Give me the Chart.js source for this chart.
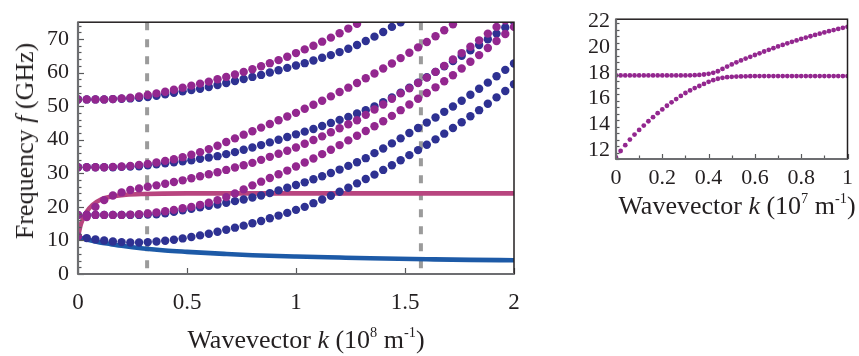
<!DOCTYPE html>
<html>
<head>
<meta charset="utf-8">
<script src="https://cdn.jsdelivr.net/npm/chart.js@4.4.0/dist/chart.umd.min.js"></script>
<style>
  body { margin: 0; width: 859px; height: 356px; background: #fff; position: relative; overflow: hidden;
         font-family: 'Liberation Serif', 'Times New Roman', serif; color: #231f20; }
  #leftBox { position: absolute; left: 0; top: 0; width: 540px; height: 356px; }
  #rightBox { position: absolute; left: 560px; top: 0; width: 299px; height: 230px; }
  .ttl { position: absolute; white-space: nowrap; font-size: 26px; line-height: 1; }
  sup { font-size: 0.55em; line-height: 0; vertical-align: 0.75em; }
</style>
</head>
<body>
<div id="leftBox"><canvas id="left" width="540" height="356"></canvas></div>
<div id="rightBox"><canvas id="right" width="299" height="230"></canvas></div>
<div class="ttl" style="left:25px;top:141px;transform:translate(-50%,-50%) rotate(-90deg)">Frequency <i>f</i> (GHz)</div>
<div class="ttl" style="left:306px;top:340px;transform:translate(-50%,-50%)">Wavevector <i>k</i> (10<sup>8</sup> m<sup>-1</sup>)</div>
<div class="ttl" style="left:737px;top:206px;transform:translate(-50%,-50%)">Wavevector <i>k</i> (10<sup>7</sup> m<sup>-1</sup>)</div>
<script>
// ---- left panel: dispersion, k in 1e8 1/m, f in GHz ----
const kLeft = [0, 0.04, 0.08, 0.12, 0.16, 0.2, 0.24, 0.28, 0.32, 0.36, 0.4, 0.44, 0.48, 0.52, 0.56, 0.6, 0.64, 0.68, 0.72, 0.76, 0.8, 0.84, 0.88, 0.92, 0.96, 1,
               1.04, 1.08, 1.12, 1.16, 1.2, 1.24, 1.28, 1.32, 1.36, 1.4, 1.44, 1.48, 1.52, 1.56, 1.6, 1.64, 1.68, 1.72, 1.76, 1.8, 1.84, 1.88, 1.92, 1.96, 2];

// blue dotted branches
const blue1 = [11.0, 10.7, 10.3, 10.0, 9.7, 9.5, 9.4, 9.4, 9.5, 9.7, 9.9, 10.2, 10.6, 11.0, 11.5, 12.0, 12.6, 13.2, 13.8, 14.4, 15.1, 15.8, 16.6, 17.4, 18.2, 19.1,
               20.0, 21.1, 22.2, 23.3, 24.5, 25.7, 27.0, 28.3, 29.6, 31.0, 32.4, 33.9, 35.4, 36.9, 38.5, 40.1, 41.8, 43.5, 45.2, 47.0, 48.8, 50.7, 52.6, 54.5, 56.5];
const blue2 = [17.6, 17.6, 17.6, 17.6, 17.6, 17.6, 17.6, 17.6, 17.7, 17.8, 18.1, 18.5, 19.0, 19.4, 19.9, 20.3, 20.7, 21.2, 21.7, 22.2, 22.8, 23.4, 24.1, 24.9, 25.7, 26.5,
               27.3, 28.2, 29.1, 30.1, 31.1, 32.2, 33.3, 34.5, 36.0, 37.4, 38.9, 40.4, 42.0, 43.5, 45.1, 46.6, 48.3, 49.9, 51.6, 53.4, 55.2, 57.0, 58.9, 60.8, 62.7];
const blue3 = [31.8, 31.8, 31.8, 31.8, 31.8, 31.9, 32.0, 32.1, 32.4, 32.7, 33.0, 33.3, 33.6, 33.9, 34.3, 34.7, 35.1, 35.7, 36.3, 37.0, 37.7, 38.4, 39.2, 40.0, 40.8, 41.6,
               42.4, 43.2, 44.1, 45.0, 45.9, 46.8, 47.8, 48.8, 49.9, 51.2, 52.6, 54.0, 55.5, 57.0, 58.6, 60.2, 61.9, 63.4, 65.0, 66.6, 68.2, 69.9, 71.6, 73.4, 75.2];
const blue4 = [52.0, 52.0, 52.0, 52.0, 52.1, 52.2, 52.3, 52.5, 52.7, 53.1, 53.5, 54.0, 54.4, 54.8, 55.2, 55.7, 56.3, 56.9, 57.5, 58.1, 58.7, 59.3, 60.0, 60.7, 61.4, 62.1,
               62.8, 63.6, 64.4, 65.2, 66.1, 67.1, 68.2, 69.4, 70.7, 72.1, 73.6, 75.0, 76.5, null, null, null, null, null, null, null, null, null, null, null, null];

// magenta dotted branches
const mag1 = [11.2, 17.0, 20.0, 22.0, 23.4, 24.3, 25.0, 25.5, 26.0, 26.4, 26.9, 27.4, 27.9, 28.5, 29.1, 29.7, 30.3, 31.0, 31.7, 32.4, 33.1, 34.0, 34.9, 35.8, 36.7, 37.7,
              38.8, 39.9, 41.0, 42.2, 43.4, 44.6, 45.8, 47.4, 49.0, 50.5, 52.2, 53.8, 55.3, 56.9, 58.5, 60.2, 62.0, 63.9, 65.8, 67.7, 69.6, 71.6, 73.6, 75.6, null];
const mag2 = [17.6, 17.6, 17.6, 17.6, 17.6, 17.6, 17.7, 17.8, 18.0, 18.3, 18.7, 19.1, 19.6, 20.0, 20.6, 21.2, 22.0, 22.9, 24.0, 25.2, 26.4, 27.5, 28.6, 29.7, 30.8, 32.0,
              33.2, 34.4, 35.7, 37.0, 38.4, 39.8, 41.2, 42.6, 44.0, 45.5, 47.1, 48.8, 50.5, 52.2, 53.9, 55.6, 57.4, 59.2, 61.2, 63.2, 65.2, 67.3, 69.4, 71.5, 73.6];
const mag3 = [31.8, 31.8, 31.8, 31.8, 31.9, 32.0, 32.2, 32.5, 32.8, 33.2, 33.7, 34.2, 34.8, 35.5, 36.3, 37.2, 38.2, 39.3, 40.4, 41.5, 42.5, 43.6, 44.7, 45.8, 46.9, 48.0,
              49.2, 50.4, 51.6, 52.9, 54.2, 55.5, 56.9, 58.3, 59.7, 61.2, 62.7, 64.3, 65.9, 67.5, 69.1, 70.8, 72.6, 74.4, 76.2, null, null, null, null, null, null];
const mag4 = [52.0, 52.0, 52.0, 52.0, 52.1, 52.3, 52.5, 52.9, 53.3, 53.8, 54.3, 54.9, 55.5, 56.1, 56.7, 57.3, 58.0, 58.7, 59.4, 60.2, 61.0, 61.9, 62.8, 63.7, 64.7, 65.8,
              66.9, 68.0, 69.2, 70.4, 71.7, 73.1, 74.5, 76.0, null, null, null, null, null, null, null, null, null, null, null, null, null, null, null, null, null];

// solid curves
const pinkK = [0, 0.014, 0.037, 0.067, 0.105, 0.144, 0.22, 0.3, 0.5, 1, 1.5, 2];
const pinkF = [11.2, 15.0, 18.3, 20.6, 22.2, 22.9, 23.6, 23.85, 24.0, 24.0, 24.0, 24.0];
const blueLineK = [0, 0.05, 0.1, 0.15, 0.2, 0.3, 0.4, 0.5, 0.67, 0.8, 1, 1.2, 1.34, 1.6, 1.8, 2];
const blueLineF = [11.0, 10.1, 9.4, 8.9, 8.4, 7.6, 7.0, 6.6, 6.0, 5.6, 5.2, 4.9, 4.7, 4.4, 4.2, 4.1];

// dashed markers
const dashK = [0.317, 1.573];

const xTicksLeft = [0, 0.5, 1, 1.5, 2];
const yTicksLeft = [0, 10, 20, 30, 40, 50, 60, 70];

// ---- right panel: zoom near the crossing, k in 1e7 1/m ----
const kRight = [0, 0.02, 0.04, 0.06, 0.08, 0.1, 0.12, 0.14, 0.16, 0.18, 0.2, 0.22, 0.24, 0.26, 0.28, 0.3, 0.32, 0.34, 0.36, 0.38, 0.4, 0.42, 0.44, 0.46, 0.48, 0.5,
                0.52, 0.54, 0.56, 0.58, 0.6, 0.62, 0.64, 0.66, 0.68, 0.7, 0.72, 0.74, 0.76, 0.78, 0.8, 0.82, 0.84, 0.86, 0.88, 0.9, 0.92, 0.94, 0.96, 0.98, 1];
const upperRight = [17.8, 17.8, 17.8, 17.8, 17.8, 17.8, 17.8, 17.8, 17.8, 17.8, 17.8, 17.8, 17.8, 17.8, 17.8, 17.8, 17.81, 17.82, 17.84, 17.87, 17.92, 18.0, 18.12, 18.3, 18.48, 18.65,
                    18.81, 18.96, 19.1, 19.24, 19.38, 19.51, 19.65, 19.78, 19.91, 20.04, 20.16, 20.28, 20.4, 20.51, 20.62, 20.73, 20.83, 20.93, 21.03, 21.13, 21.22, 21.31, 21.4, 21.48, 21.56];
const lowerRight = [11.45, 11.95, 12.4, 12.83, 13.22, 13.58, 13.92, 14.25, 14.57, 14.88, 15.17, 15.45, 15.72, 15.97, 16.21, 16.44, 16.64, 16.82, 16.98, 17.14, 17.3, 17.43, 17.54, 17.61, 17.66, 17.69,
                    17.71, 17.72, 17.73, 17.74, 17.75, 17.75, 17.75, 17.75, 17.75, 17.75, 17.75, 17.75, 17.75, 17.75, 17.75, 17.75, 17.75, 17.75, 17.75, 17.75, 17.75, 17.75, 17.75, 17.75, 17.75];

const xTicksRight = [0, 0.2, 0.4, 0.6, 0.8, 1];
const yTicksRight = [12, 14, 16, 18, 20, 22];

const BLUE = '#2e3192';
const MAGENTA = '#93278f';
const INK = '#231f20';
const TICK = '#58595b';

function pts(xs, ys) {
  return xs.map((x, i) => ({ x: x, y: ys[i] }));
}

function dots(ys, color, order, r) {
  return {
    data: pts(kLeft, ys), showLine: false, order: order,
    pointRadius: r, pointHoverRadius: r, pointBorderWidth: 0,
    pointBackgroundColor: color, pointBorderColor: color
  };
}

// frame + inward ticks
const frameTicks = {
  id: 'frameTicks',
  afterDatasetsDraw(chart, args, o) {
    const { ctx, chartArea: a } = chart;
    const x = chart.scales.x, y = chart.scales.y;
    ctx.save();
    ctx.lineCap = 'butt';
    ctx.strokeStyle = TICK;
    ctx.lineWidth = 1.2;
    const seg = (x1, y1, x2, y2) => { ctx.beginPath(); ctx.moveTo(x1, y1); ctx.lineTo(x2, y2); ctx.stroke(); };
    for (let v = y.min; v <= y.max + 1e-9; v += o.yMinor) {
      const p = Math.round(y.getPixelForValue(v)) + 0.5;
      const major = Math.abs(v / o.yMajor - Math.round(v / o.yMajor)) < 1e-6;
      seg(a.left, p, a.left + (major ? o.majLen : o.minLen), p);
    }
    for (let v = x.min; v <= x.max + 1e-9; v += o.xMinor) {
      const p = Math.round(x.getPixelForValue(v)) + 0.5;
      const major = Math.abs(v / o.xMajor - Math.round(v / o.xMajor)) < 1e-6;
      seg(p, a.bottom, p, a.bottom - (major ? o.majLen : o.minLen));
    }
    ctx.strokeStyle = INK;
    ctx.lineWidth = 1.5;
    ctx.strokeRect(a.left, a.top, a.right - a.left, a.bottom - a.top);
    ctx.strokeStyle = '#6d6e71';
    ctx.lineWidth = 2.2;
    seg(a.left, a.top, a.left, a.bottom);
    seg(a.left, a.bottom, a.right, a.bottom);
    ctx.restore();
  }
};

function axis(ticks, min, max, fontSize, pad, size, isX) {
  return {
    type: 'linear', min: min, max: max,
    grid: { display: false, drawTicks: false },
    border: { display: false },
    afterBuildTicks: s => { s.ticks = ticks.map(v => ({ value: v })); },
    afterFit: s => { if (isX) s.height = size; else s.width = size; },
    ticks: {
      color: INK, padding: pad, maxRotation: 0, autoSkip: false,
      callback: v => String(v),
      font: { family: "'Liberation Serif', serif", size: fontSize }
    }
  };
}

new Chart(document.getElementById('left'), {
  type: 'scatter',
  data: {
    datasets: [
      dots(mag1, MAGENTA, 1, 4.2),
      dots(mag2, MAGENTA, 1, 4.2),
      dots(mag3, MAGENTA, 1, 4.2),
      dots(mag4, MAGENTA, 1, 4.2),
      dots(blue1, BLUE, 2, 4.2),
      dots(blue2, BLUE, 2, 4.2),
      dots(blue3, BLUE, 2, 4.2),
      dots(blue4, BLUE, 2, 4.2),
      { data: pts(pinkK, pinkF), showLine: true, pointRadius: 0, borderColor: '#b8457f', borderWidth: 4.6,
        cubicInterpolationMode: 'monotone', order: 3 },
      { data: pts(blueLineK, blueLineF), showLine: true, pointRadius: 0, borderColor: '#1d5aa7', borderWidth: 4.6,
        cubicInterpolationMode: 'monotone', order: 3 },
      ...dashK.map(k => ({
        data: [{ x: k, y: 75 }, { x: k, y: 0 }], showLine: true, pointRadius: 0,
        borderColor: '#9b9b9b', borderWidth: 4, borderDash: [8, 9], order: 4
      }))
    ]
  },
  options: {
    responsive: false, animation: false, devicePixelRatio: 1,
    layout: { padding: { top: 5, right: 26, left: 0, bottom: 0 } },
    plugins: {
      legend: { display: false }, tooltip: { enabled: false },
      frameTicks: { xMinor: 0.5, xMajor: 0.5, yMinor: 2, yMajor: 10, majLen: 6, minLen: 3.5 }
    },
    scales: {
      x: axis(xTicksLeft, 0, 2, 23, 15, 82, true),
      y: axis(yTicksLeft, 0, 75, 22, 9, 78, false)
    }
  },
  plugins: [frameTicks]
});

new Chart(document.getElementById('right'), {
  type: 'scatter',
  data: {
    datasets: [
      { data: pts(kRight, upperRight), showLine: false, pointRadius: 2.4, pointBorderWidth: 0,
        pointBackgroundColor: MAGENTA, pointBorderColor: MAGENTA },
      { data: pts(kRight, lowerRight), showLine: false, pointRadius: 2.4, pointBorderWidth: 0,
        pointBackgroundColor: MAGENTA, pointBorderColor: MAGENTA }
    ]
  },
  options: {
    responsive: false, animation: false, devicePixelRatio: 1,
    layout: { padding: { top: 13, right: 7, left: 0, bottom: 0 } },
    plugins: {
      legend: { display: false }, tooltip: { enabled: false },
      frameTicks: { xMinor: 0.1, xMajor: 0.2, yMinor: 0.5, yMajor: 2, majLen: 5, minLen: 3.5 }
    },
    scales: {
      x: axis(xTicksRight, 0, 1, 22, 6, 71, true),
      y: axis(yTicksRight, 11.33, 22.15, 22, 6, 56, false)
    }
  },
  plugins: [frameTicks]
});
</script>
</body>
</html>
